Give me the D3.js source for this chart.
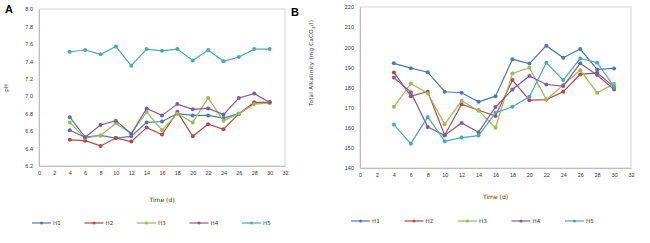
<!DOCTYPE html>
<meta charset="utf-8">
<style>
body { margin: 0; background: #fff; }
svg { font-family: "DejaVu Sans", sans-serif; }
.tick text { fill: #333; }
</style>
<body>
<script src="https://cdn.jsdelivr.net/npm/d3@7"></script>
<script>

// sampling days
var days = [4, 6, 8, 10, 12, 14, 16, 18, 20, 22, 24, 26, 28, 30];
var seriesNames = ["H1", "H2", "H3", "H4", "H5"];
var colors = ["#4a7ab5", "#b04a47", "#9cba5a", "#7a5f9e", "#4aa9b9"];
var xTicks = [0, 2, 4, 6, 8, 10, 12, 14, 16, 18, 20, 22, 24, 26, 28, 30, 32];

// panel A: pH
var phH1 = [6.76, 6.53, 6.55, 6.52, 6.54, 6.70, 6.71, 6.80, 6.78, 6.78, 6.75, 6.80, 6.92, 6.93];
var phH2 = [6.50, 6.49, 6.43, 6.52, 6.48, 6.64, 6.56, 6.82, 6.54, 6.68, 6.62, 6.80, 6.93, 6.93];
var phH3 = [6.70, 6.52, 6.55, 6.69, 6.57, 6.82, 6.61, 6.80, 6.70, 6.98, 6.72, 6.80, 6.91, 6.92];
var phH4 = [6.61, 6.53, 6.67, 6.72, 6.57, 6.86, 6.78, 6.91, 6.85, 6.86, 6.79, 6.98, 7.03, 6.93];
var phH5 = [7.51, 7.53, 7.48, 7.57, 7.35, 7.54, 7.52, 7.54, 7.41, 7.53, 7.40, 7.45, 7.54, 7.54];
var phTicks = [6.2, 6.4, 6.6, 6.8, 7.0, 7.2, 7.4, 7.6, 7.8, 8.0];

// panel B: total alkalinity
var alkH1 = [192, 189.6, 187.6, 177.9, 177.4, 172.9, 175.7, 194, 191.9, 200.8, 194.8, 199.1, 189, 189.5];
var alkH2 = [187.5, 175.7, 177.9, 156.3, 171.7, 168.7, 165.8, 183.7, 173.7, 174, 177.9, 186.5, 187.3, 180.3];
var alkH3 = [170.4, 182, 177, 161.8, 173.4, 168.5, 160, 187, 189.8, 174, 181.2, 188.6, 177.4, 181.9];
var alkH4 = [185, 177.7, 160.4, 156.3, 162.4, 157.8, 170.3, 179, 185.7, 181.5, 180.7, 192, 186.2, 179];
var alkH5 = [161.6, 152.1, 165.4, 153.3, 155.1, 156.1, 167.4, 170.4, 175.4, 192.3, 183.7, 194.4, 192.3, 180.4];
var alkTicks = [140, 150, 160, 170, 180, 190, 200, 210, 220];

var svg = d3.select("body").append("svg")
    .attr("width", 650)
    .attr("height", 243);

function drawPanel(opt) {
  var x = d3.scaleLinear().domain([0, 32]).range([opt.left, opt.right]);
  var y = d3.scaleLinear().domain(opt.yDomain).range([opt.bottom, opt.top]);
  var g = svg.append("g");

  // plot frame
  g.append("rect")
      .attr("x", opt.left).attr("y", opt.top)
      .attr("width", opt.right - opt.left).attr("height", opt.bottom - opt.top)
      .attr("fill", "none").attr("stroke", "#d4d4d4").attr("stroke-width", 1);

  var xAxis = g.append("g")
      .attr("transform", "translate(0," + opt.bottom + ")")
      .call(d3.axisBottom(x).tickValues(xTicks).tickSize(0).tickPadding(5));
  var yAxis = g.append("g")
      .attr("transform", "translate(" + opt.left + ",0)")
      .call(d3.axisLeft(y).tickValues(opt.yTicks).tickSize(0).tickPadding(6)
        .tickFormat(opt.yFormat));
  [xAxis, yAxis].forEach(function(a) {
    a.select(".domain").attr("stroke", "#bdbdbd");
    a.selectAll("text").attr("font-size", 5.5).attr("fill", "#333");
  });

  opt.series.forEach(function(vals, i) {
    var pts = days.map(function(d, j) { return [d, vals[j]]; });
    g.append("path")
        .datum(pts)
        .attr("fill", "none")
        .attr("stroke", colors[i])
        .attr("stroke-width", 1.2)
        .attr("d", d3.line().x(function(d) { return x(d[0]); }).y(function(d) { return y(d[1]); }));
    g.selectAll(null)
        .data(pts)
        .enter().append("circle")
        .attr("cx", function(d) { return x(d[0]); })
        .attr("cy", function(d) { return y(d[1]); })
        .attr("r", 2)
        .attr("fill", colors[i]);
  });

  // panel letter
  g.append("text")
      .attr("x", opt.letterX).attr("y", opt.letterY)
      .attr("font-size", 11).attr("font-weight", "bold")
      .attr("font-family", "Liberation Sans, Arial, sans-serif")
      .text(opt.letter);

  // y title
  var yt = g.append("text")
      .attr("transform", "translate(" + opt.yTitleX + "," + opt.yTitleY + ") rotate(-90)")
      .attr("text-anchor", "middle")
      .attr("font-size", 5.5).attr("fill", "#333");
  opt.yTitle(yt);

  // x title
  g.append("text")
      .attr("x", (opt.left + opt.right) / 2).attr("y", opt.xTitleY)
      .attr("text-anchor", "middle")
      .attr("font-size", 6).attr("fill", "#333")
      .text("Time (d)");

  // legend
  var leg = g.selectAll(".leg")
      .data(seriesNames)
      .enter().append("g")
      .attr("transform", function(d, i) { return "translate(" + (opt.legendX + i * opt.legendStep) + "," + opt.legendY + ")"; });
  leg.append("line")
      .attr("x1", 0).attr("x2", 19)
      .attr("stroke", function(d, i) { return colors[i]; })
      .attr("stroke-width", 1.2);
  leg.append("circle")
      .attr("cx", 9.5).attr("r", 1.5)
      .attr("fill", function(d, i) { return colors[i]; });
  leg.append("text")
      .attr("x", 21).attr("y", 2)
      .attr("font-size", 5.5).attr("fill", "#333")
      .text(function(d) { return d; });
}

drawPanel({
  left: 39, right: 285, top: 9, bottom: 166,
  yDomain: [6.2, 8.0], yTicks: phTicks, yFormat: d3.format(".1f"),
  series: [phH1, phH2, phH3, phH4, phH5],
  letter: "A", letterX: 5, letterY: 13,
  yTitleX: 8, yTitleY: 88,
  yTitle: function(t) { t.text("pH"); },
  xTitleY: 202,
  legendX: 32, legendStep: 52.5, legendY: 223
});

drawPanel({
  left: 360, right: 631, top: 7, bottom: 168,
  yDomain: [140, 220], yTicks: alkTicks, yFormat: d3.format("d"),
  series: [alkH1, alkH2, alkH3, alkH4, alkH5],
  letter: "B", letterX: 291, letterY: 16,
  yTitleX: 313, yTitleY: 63,
  yTitle: function(t) {
    t.attr("letter-spacing", 0.3);
    t.append("tspan").text("Total Alkalinity  (mg CaCO");
    t.append("tspan").attr("font-size", 4).attr("dy", 1.5).text("3");
    t.append("tspan").attr("dy", -1.5).text("/l)");
  },
  xTitleY: 199,
  legendX: 351, legendStep: 53.5, legendY: 221
});

</script>
</body>
